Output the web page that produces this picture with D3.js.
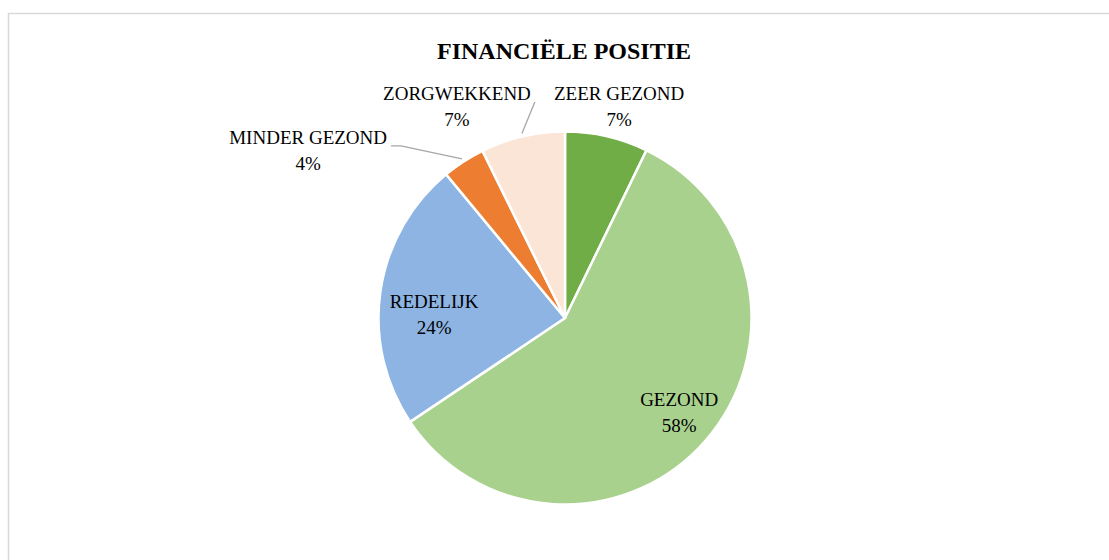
<!DOCTYPE html>
<html>
<head>
<meta charset="utf-8">
<script src="https://cdn.jsdelivr.net/npm/d3@7"></script>
<style>
  html, body { margin: 0; padding: 0; background: #fff; }
  svg { display: block; }
</style>
</head>
<body>
<div id="chart"></div>
<script>
"use strict"
var width = 1109,
	height = 560;

// data
var categories = ["ZEER GEZOND", "GEZOND", "REDELIJK", "MINDER GEZOND", "ZORGWEKKEND"];
var shares = [7.2, 58.4, 23.4, 3.7, 7.3];
var pctLabels = ["7%", "58%", "24%", "4%", "7%"];
var colours = ["#70ad47", "#a9d18e", "#8db4e2", "#ed7d31", "#fbe5d6"];

// label layout: [angle in degrees from 12 o'clock, distance from centre], leader style
var labelPolar = [[14.3, 219], [129.5, 148], [-88.3, 131], [-56.8, 307], [-27.0, 238]];
var leader = [null, null, null, "elbow", "straight"];

var cx = 565, cy = 318, radius = 186.5;

var svg = d3.select("#chart").append("svg")
	.attr("width", width)
	.attr("height", height);

// chart frame
svg.append("rect")
	.attr("x", 8.5)
	.attr("y", 13.5)
	.attr("width", width + 20)
	.attr("height", height + 20)
	.style("fill", "#fff")
	.style("stroke", "#d9d9d9")
	.style("stroke-width", 1.5);

svg.append("text")
	.attr("x", 564)
	.attr("y", 59)
	.attr("text-anchor", "middle")
	.style("font-family", "'Liberation Serif', 'DejaVu Serif', serif")
	.style("font-weight", "bold")
	.style("font-size", "24px")
	.style("fill", "#000")
	.text("FINANCIËLE POSITIE");

var pie = d3.pie().sort(null).value(function(d) { return d; });
var arcs = pie(shares);
var arc = d3.arc().innerRadius(0).outerRadius(radius);

var g = svg.append("g").attr("transform", "translate(" + cx + "," + cy + ")");

g.selectAll("path.slice")
	.data(arcs)
	.enter().append("path")
	.attr("class", "slice")
	.attr("d", arc)
	.style("fill", function(d, i) { return colours[i]; })
	.style("stroke", "#fff")
	.style("stroke-width", 2.5);

function polar(angleDeg, r) {
	var a = angleDeg * Math.PI / 180;
	return [Math.sin(a) * r, -Math.cos(a) * r];
}

var labels = g.selectAll("g.label")
	.data(arcs)
	.enter().append("g")
	.attr("class", "label")
	.attr("transform", function(d, i) {
		var p = polar(labelPolar[i][0], labelPolar[i][1]);
		return "translate(" + p[0] + "," + p[1] + ")";
	});

labels.append("text")
	.attr("class", "name")
	.attr("y", -6)
	.attr("text-anchor", "middle")
	.style("font-family", "'Liberation Serif', 'DejaVu Serif', serif")
	.style("font-size", "19px")
	.style("fill", "#000")
	.text(function(d, i) { return categories[i]; });

labels.append("text")
	.attr("y", 20)
	.attr("text-anchor", "middle")
	.style("font-family", "'Liberation Serif', 'DejaVu Serif', serif")
	.style("font-size", "19px")
	.style("fill", "#000")
	.text(function(d, i) { return pctLabels[i]; });

// leader lines for the small outside slices
labels.each(function(d, i) {
	if (!leader[i]) return;
	var bb = d3.select(this).select("text.name").node().getBBox();
	var p = polar(labelPolar[i][0], labelPolar[i][1]);
	var mid = (d.startAngle + d.endAngle) / 2;
	var start = [Math.sin(mid) * (radius + 3), -Math.cos(mid) * (radius + 3)];
	var endX = p[0] + bb.x + bb.width + 4,
		endY = p[1] - 4;
	var pts = leader[i] === "elbow"
		? [start, [endX + 10, endY], [endX, endY]]
		: [start, [endX, endY]];
	g.append("path")
		.attr("d", d3.line()(pts))
		.style("fill", "none")
		.style("stroke", "#a6a6a6")
		.style("stroke-width", 1.3);
});
</script>
</body>
</html>
